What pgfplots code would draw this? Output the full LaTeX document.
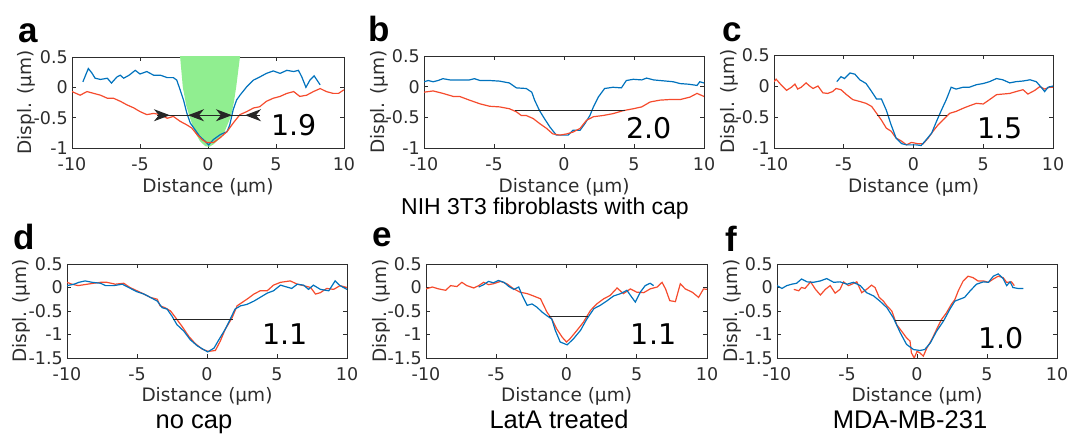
\documentclass[border=0pt]{standalone}
\usepackage{pgfplots}
\pgfplotsset{compat=1.18}
\usepackage{fontspec}
\setmainfont{DejaVu Sans}
\newfontfamily\arial{Liberation Sans}
\usetikzlibrary{arrows.meta,calc}

\definecolor{mblue}{RGB}{0,114,189}
\definecolor{mred}{RGB}{245,75,45}
\definecolor{mgreen}{RGB}{144,238,144}
\definecolor{axgray}{RGB}{45,45,45}

\pgfplotsset{
  panel/.style={
    scale only axis,
    anchor=south west,
    xmin=-10, xmax=10,
    xtick={-10,-5,0,5,10},
    xticklabels={-10,-5,0,5,10},
    tick align=inside,
    major tick length=4pt,
    axis line style={axgray, line width=0.7pt},
    every tick/.style={axgray, line width=0.7pt},
    tick label style={font=\fontsize{17.5}{20}\selectfont, text=axgray},
    xticklabel style={anchor=base, yshift=-23pt},
    yticklabel style={anchor=east, inner sep=0pt, xshift=-4pt},
    xlabel={Distance (μm)},
    ylabel={Displ. (μm)},
    every axis y label/.style={at={($(axis description cs:0,0.5)+(-40pt,0)$)}, rotate=90, anchor=base,
      font=\fontsize{18.5}{21}\selectfont, text=axgray},
  },
  toprow/.style={ymin=-1, ymax=0.5, ytick={-1,-0.5,0,0.5}, yticklabels={-1,-0.5,0,0.5},
    every axis x label/.style={at={($(axis description cs:0.5,0)+(0,-45pt)$)}, anchor=base, inner sep=0pt,
      font=\fontsize{18.5}{21}\selectfont, text=axgray}},
  botrow/.style={ymin=-1.5, ymax=0.5, ytick={-1.5,-1,-0.5,0,0.5}, yticklabels={-1.5,-1,-0.5,0,0.5},
    every axis x label/.style={at={($(axis description cs:0.5,0)+(0,-44pt)$)}, anchor=base, inner sep=0pt,
      font=\fontsize{18.5}{21}\selectfont, text=axgray}},
  bl/.style={mblue, line width=1.2pt},
  rd/.style={mred, line width=1.2pt},
  fwhm/.style={black!85, line width=1.1pt},
}
\tikzset{bignum/.style={font=\fontsize{28.5}{30}\selectfont, black},
  tip/.tip={Stealth[length=16pt,width=12pt,inset=5pt]},
  letter/.style={font=\arial\bfseries\fontsize{35}{36}\selectfont, anchor=base west, inner sep=0pt},
  caption/.style={font=\arial\fontsize{25.5}{27}\selectfont, anchor=base, inner sep=0pt}}

\begin{document}
\begin{tikzpicture}
\useasboundingbox (0,0) rectangle (1083pt,435pt);

% a
\begin{axis}[panel, toprow, at={(72pt,287pt)}, width=272pt, height=91pt]
\addplot[fill=mgreen, draw=none] coordinates {(-2.1,0.6) (-2.05,0.5) (-1.85,0) (-1.6,-0.3) (-1.36,-0.48) (-0.94,-0.75) (-0.58,-0.89) (-0.2,-0.97) (0.1,-0.98) (0.4,-0.94) (0.65,-0.89) (1.19,-0.75) (1.68,-0.48) (1.9,-0.25) (2.07,0) (2.35,0.5) (2.4,0.6)};
\addplot[bl] coordinates {(-9.2,0.09) (-8.8,0.31) (-8.55,0.24) (-8.3,0.15) (-7.9,0.13) (-7.4,0.15) (-7.1,0.07) (-6.7,0.17) (-6.45,0.2) (-6.2,0.15) (-5.8,0.2) (-5.35,0.28) (-5.0,0.22) (-4.5,0.26) (-4.0,0.2) (-3.5,0.2) (-3.0,0.16) (-2.55,0.16) (-2.3,0.12) (-2.05,-0.04) (-1.8,-0.21) (-1.55,-0.43) (-1.3,-0.59) (-0.95,-0.7) (-0.6,-0.81) (-0.2,-0.89) (0.05,-0.95) (0.4,-0.86) (0.9,-0.78) (1.4,-0.73) (1.6,-0.62) (1.85,-0.37) (2.1,-0.21) (2.35,-0.13) (2.85,0.01) (3.35,0.12) (3.8,0.17) (4.3,0.23) (4.8,0.27) (5.3,0.23) (5.8,0.28) (6.3,0.26) (6.65,0.28) (6.9,0.17) (7.2,0.0) (7.5,0.12) (7.8,0.19) (8.25,0.04)};
\addplot[rd] coordinates {(-10,-0.07) (-9.4,-0.13) (-8.9,-0.07) (-8.4,-0.1) (-7.9,-0.13) (-7.4,-0.18) (-6.95,-0.18) (-6.45,-0.23) (-5.95,-0.29) (-5.45,-0.34) (-5.0,-0.4) (-4.5,-0.45) (-4.0,-0.43) (-3.5,-0.45) (-3.0,-0.51) (-2.55,-0.48) (-2.05,-0.56) (-1.55,-0.62) (-1.2,-0.67) (-0.8,-0.78) (-0.45,-0.86) (-0.1,-0.91) (0.4,-0.91) (0.9,-0.83) (1.4,-0.73) (1.85,-0.59) (2.35,-0.45) (2.85,-0.4) (3.35,-0.34) (3.8,-0.32) (4.3,-0.23) (4.8,-0.18) (5.3,-0.15) (5.8,-0.1) (6.3,-0.07) (6.75,-0.15) (7.25,-0.13) (7.75,-0.07) (8.25,-0.02) (8.7,-0.07) (9.2,-0.1) (9.6,-0.1) (10,-0.04)};
\addplot[fwhm] coordinates {(-3.75,-0.46) (3.82,-0.46)};
\addplot[fwhm, -tip] coordinates {(-3.75,-0.46) (-2.8,-0.46)};
\addplot[fwhm, -tip] coordinates {(3.82,-0.46) (2.72,-0.46)};
\addplot[fwhm, tip-tip] coordinates {(-1.47,-0.46) (1.76,-0.46)};
\node[bignum] at (axis cs:6.3,-0.63) {1.9};
\end{axis}

% b
\begin{axis}[panel, toprow, at={(424pt,287pt)}, width=280pt, height=92pt]
\addplot[bl] coordinates {(-10,0.08) (-9.7,0.1) (-9.35,0.08) (-9.0,0.1) (-8.65,0.13) (-8.15,0.11) (-7.45,0.11) (-6.75,0.11) (-6.4,0.13) (-6.0,0.1) (-5.3,0.1) (-4.6,0.09) (-3.9,0.06) (-3.4,-0.02) (-2.7,-0.03) (-2.3,-0.09) (-2.1,-0.22) (-1.75,-0.39) (-1.4,-0.52) (-1.0,-0.66) (-0.55,-0.79) (-0.05,-0.79) (0.3,-0.79) (0.65,-0.71) (1.15,-0.71) (1.5,-0.6) (1.85,-0.47) (2.1,-0.33) (2.45,-0.17) (2.9,-0.03) (3.5,-0.01) (4.1,-0.02) (4.45,0.1) (4.95,0.12) (5.55,0.11) (5.9,0.14) (6.4,0.11) (6.85,0.1) (7.35,0.09) (7.8,0.08) (8.3,0.05) (8.9,0.04) (9.5,0.02) (9.7,0.08) (10,0.06)};
\addplot[rd] coordinates {(-10,-0.09) (-9.35,-0.07) (-8.65,-0.11) (-7.9,-0.16) (-7.45,-0.16) (-6.75,-0.22) (-6.0,-0.28) (-5.3,-0.32) (-4.6,-0.33) (-3.9,-0.36) (-3.4,-0.41) (-3.05,-0.47) (-2.7,-0.47) (-2.2,-0.52) (-1.75,-0.6) (-1.25,-0.68) (-0.8,-0.77) (-0.3,-0.79) (0.2,-0.77) (0.65,-0.74) (1.15,-0.68) (1.6,-0.55) (2.1,-0.49) (2.8,-0.47) (3.5,-0.44) (4.25,-0.39) (4.95,-0.36) (5.55,-0.33) (6.15,-0.25) (6.85,-0.22) (7.55,-0.21) (8.3,-0.21) (9.0,-0.17) (9.5,-0.11) (10,-0.16)};
\addplot[fwhm] coordinates {(-3.5,-0.39) (4.35,-0.39)};
\node[bignum] at (axis cs:6.1,-0.68) {2.0};
\end{axis}

% c
\begin{axis}[panel, toprow, at={(774pt,287pt)}, width=279pt, height=93pt]
\addplot[rd] coordinates {(-10,0.07) (-9.85,0.11) (-9.5,0.02) (-9.1,-0.07) (-8.75,-0.02) (-8.5,0.03) (-8.3,-0.05) (-8.05,-0.02) (-7.7,0.05) (-7.45,0) (-7.2,-0.04) (-6.85,0) (-6.5,-0.11) (-6.15,-0.12) (-5.8,-0.09) (-5.55,-0.04) (-5.2,-0.06) (-4.8,-0.14) (-4.35,-0.22) (-3.85,-0.25) (-3.4,-0.28) (-3.0,-0.33) (-2.65,-0.44) (-2.3,-0.55) (-1.95,-0.68) (-1.6,-0.73) (-1.25,-0.84) (-0.85,-0.89) (-0.5,-0.95) (-0.15,-0.91) (0.3,-0.93) (0.7,-0.93) (1.05,-0.84) (1.4,-0.73) (1.75,-0.63) (2.1,-0.55) (2.6,-0.44) (3.05,-0.41) (3.55,-0.36) (4.0,-0.32) (4.5,-0.28) (5.0,-0.29) (5.45,-0.22) (5.95,-0.14) (6.4,-0.13) (6.9,-0.12) (7.35,-0.09) (7.85,-0.06) (8.2,-0.13) (8.7,-0.07) (9.05,-0.01) (9.4,-0.05) (9.75,-0.02) (10,-0.02)};
\addplot[bl] coordinates {(-5.5,0.07) (-5.2,0.15) (-4.95,0.12) (-4.55,0.21) (-4.2,0.19) (-3.85,0.1) (-3.4,0.04) (-3.0,-0.09) (-2.65,-0.21) (-2.3,-0.21) (-1.95,-0.39) (-1.6,-0.63) (-1.25,-0.84) (-0.85,-0.93) (-0.5,-0.95) (-0.15,-0.95) (0.2,-0.95) (0.55,-0.96) (0.9,-0.87) (1.3,-0.76) (1.65,-0.57) (2.0,-0.39) (2.35,-0.22) (2.7,-0.02) (3.05,-0.05) (3.55,-0.02) (4.0,-0.02) (4.5,0.02) (5.0,0.04) (5.45,0.07) (5.95,0.12) (6.4,0.1) (6.9,0.05) (7.35,0.07) (7.85,0.08) (8.35,0.1) (8.8,0.07) (9.15,-0.02) (9.4,-0.09) (9.65,-0.02) (10,0)};
\addplot[fwhm] coordinates {(-2.65,-0.48) (2.4,-0.48)};
\node[bignum] at (axis cs:6.2,-0.68) {1.5};
\end{axis}

% d
\begin{axis}[panel, botrow, at={(67pt,77pt)}, width=280pt, height=94pt]
\addplot[rd] coordinates {(-10,0.11) (-9.65,0.07) (-9.2,0.04) (-8.55,0.07) (-8.1,0.09) (-7.6,0.11) (-7.15,0.11) (-6.55,0.07) (-5.95,0.09) (-5.5,0) (-5.0,-0.07) (-4.5,-0.14) (-4.05,-0.21) (-3.55,-0.25) (-3.35,-0.39) (-3.0,-0.43) (-2.6,-0.5) (-2.25,-0.64) (-1.8,-0.82) (-1.3,-1.04) (-0.85,-1.19) (-0.35,-1.31) (0.1,-1.36) (0.6,-1.34) (0.95,-1.14) (1.3,-0.89) (1.8,-0.64) (2.15,-0.39) (2.5,-0.32) (2.85,-0.25) (3.35,-0.14) (3.8,-0.07) (4.3,-0.07) (4.75,0.05) (5.25,0.11) (5.95,0.14) (6.45,0.07) (6.9,0.04) (7.4,0) (7.75,-0.14) (8.1,-0.11) (8.55,-0.02) (9.05,-0.04) (9.5,0.04) (10,0)};
\addplot[bl] coordinates {(-10,0.04) (-9.5,0.07) (-9.15,0.11) (-8.7,0.14) (-8.2,0.11) (-7.6,0.09) (-7.25,0.04) (-6.65,0.04) (-6.05,0.07) (-5.6,0) (-5.0,-0.09) (-4.5,-0.14) (-4.05,-0.21) (-3.55,-0.29) (-3.2,-0.43) (-2.85,-0.46) (-2.5,-0.61) (-2.15,-0.79) (-1.65,-0.93) (-1.2,-1.11) (-0.7,-1.24) (-0.25,-1.32) (0.05,-1.37) (0.5,-1.29) (0.85,-1.11) (1.3,-0.89) (1.65,-0.68) (2.0,-0.46) (2.4,-0.39) (2.85,-0.36) (3.35,-0.29) (3.8,-0.21) (4.3,-0.12) (4.75,-0.07) (5.25,0.05) (5.7,0.01) (6.05,-0.02) (6.45,0.07) (6.9,0.05) (7.25,-0.04) (7.6,0.05) (8.1,-0.04) (8.7,-0.07) (9.15,0.14) (9.5,0.04) (10,-0.04)};
\addplot[fwhm] coordinates {(-2.4,-0.69) (1.85,-0.69)};
\node[bignum] at (axis cs:5.6,-1.0) {1.1};
\end{axis}

% e
\begin{axis}[panel, botrow, at={(426pt,77pt)}, width=281pt, height=94pt]
\addplot[rd] coordinates {(-10,-0.03) (-9.55,0.01) (-9.1,-0.03) (-8.6,-0.06) (-8.25,0.04) (-7.8,0.02) (-7.45,0.11) (-7.1,0.04) (-6.6,-0.01) (-6.25,0.04) (-5.9,0.11) (-5.55,0.06) (-5.2,0.08) (-4.7,0.13) (-4.25,0.08) (-3.75,-0.03) (-3.3,-0.1) (-2.8,-0.13) (-2.35,-0.18) (-1.85,-0.24) (-1.4,-0.52) (-1.05,-0.67) (-0.7,-0.88) (-0.3,-1.06) (0,-1.16) (0.25,-1.09) (0.75,-0.91) (1.2,-0.74) (1.7,-0.49) (2.15,-0.35) (2.65,-0.24) (3.1,-0.17) (3.6,-0.01) (4.05,-0.13) (4.55,-0.03) (5.0,-0.1) (5.5,-0.11) (5.95,-0.03) (6.45,0.01) (6.8,0.11) (7.05,-0.03) (7.35,-0.28) (7.75,-0.3) (8.1,0.08) (8.45,-0.03) (8.95,-0.1) (9.4,-0.21) (9.75,-0.03) (10,-0.04)};
\addplot[bl] coordinates {(-6.25,0.01) (-5.9,0.06) (-5.55,0.13) (-5.2,0.1) (-4.85,0.15) (-4.45,0.11) (-4.1,0.02) (-3.75,-0.04) (-3.4,0.01) (-3.15,-0.17) (-2.8,-0.38) (-2.45,-0.35) (-2.1,-0.42) (-1.75,-0.52) (-1.4,-0.6) (-1.05,-0.67) (-0.8,-0.91) (-0.45,-1.16) (0.05,-1.22) (0.5,-1.09) (1.0,-0.91) (1.45,-0.67) (1.95,-0.45) (2.4,-0.38) (2.9,-0.28) (3.35,-0.18) (3.85,-0.13) (4.3,-0.06) (4.65,-0.21) (4.9,-0.31) (5.25,-0.1) (5.6,0.04) (5.95,0.09) (6.2,0.04)};
\addplot[fwhm] coordinates {(-1.25,-0.61) (1.5,-0.61)};
\node[bignum] at (axis cs:6.2,-1.0) {1.1};
\end{axis}

% f
\begin{axis}[panel, botrow, at={(777pt,77pt)}, width=280pt, height=94pt]
\addplot[rd] coordinates {(-8.8,-0.04) (-8.45,-0.07) (-8.25,0) (-8.0,-0.02) (-7.6,0.12) (-7.25,-0.04) (-6.9,-0.16) (-6.55,-0.04) (-6.2,0.04) (-5.85,-0.12) (-5.5,-0.04) (-5.25,0.12) (-4.9,0.04) (-4.65,0.07) (-4.3,0.12) (-3.95,-0.11) (-3.6,-0.04) (-3.25,0.05) (-3.0,0) (-2.7,-0.21) (-2.4,-0.29) (-2.15,-0.39) (-1.8,-0.5) (-1.45,-0.79) (-1.1,-0.93) (-0.75,-1.07) (-0.5,-1.14) (-0.4,-1.39) (-0.2,-1.5) (0,-1.36) (0.2,-1.39) (0.45,-1.46) (0.7,-1.29) (1.05,-1.11) (1.4,-0.89) (1.75,-0.68) (2.1,-0.54) (2.45,-0.36) (2.7,-0.26) (2.95,-0.07) (3.3,0.14) (3.65,0.24) (4.0,0.21) (4.35,0.14) (4.75,0.14) (5.1,0.11) (5.45,0.18) (5.8,0.24) (6.15,0.21) (6.4,0.11) (6.75,0.12) (6.95,0.04)};
\addplot[bl] coordinates {(-10,0.04) (-9.65,-0.02) (-9.3,0.04) (-8.95,0.07) (-8.6,0.09) (-8.25,0.18) (-7.85,0.12) (-7.4,0.11) (-6.9,0.14) (-6.45,0.19) (-5.95,0.11) (-5.5,0.12) (-5.0,0.07) (-4.55,0.11) (-4.05,0.04) (-3.6,-0.11) (-3.1,-0.18) (-2.65,-0.29) (-2.15,-0.43) (-1.7,-0.64) (-1.2,-0.96) (-0.75,-1.21) (-0.25,-1.32) (0.2,-1.34) (0.55,-1.32) (0.95,-1.18) (1.4,-0.93) (1.9,-0.71) (2.35,-0.46) (2.7,-0.29) (3.05,-0.25) (3.4,-0.21) (3.8,-0.07) (4.25,0.07) (4.75,0.12) (5.1,0.11) (5.45,0.24) (5.8,0.29) (6.15,0.19) (6.4,0.04) (6.65,0.12) (6.85,0) (7.2,-0.02) (7.6,-0.02)};
\addplot[fwhm] coordinates {(-1.55,-0.71) (1.95,-0.71)};
\node[bignum] at (axis cs:6.0,-1.07) {1.0};
\end{axis}

% panel letters and captions
\node[letter] at (18pt,392pt) {a};
\node[letter] at (368pt,393pt) {b};
\node[letter] at (722pt,393pt) {c};
\node[letter] at (13pt,185pt) {d};
\node[letter] at (372pt,188pt) {e};
\node[letter] at (725pt,183pt) {f};
\node[font=\arial\fontsize{23}{25}\selectfont, anchor=base, inner sep=0pt] at (545pt,220pt) {NIH 3T3 fibroblasts with cap};
\node[caption] at (194pt,6pt) {no cap};
\node[caption] at (559pt,6pt) {LatA treated};
\node[caption] at (910pt,6pt) {MDA-MB-231};
\end{tikzpicture}
\end{document}
